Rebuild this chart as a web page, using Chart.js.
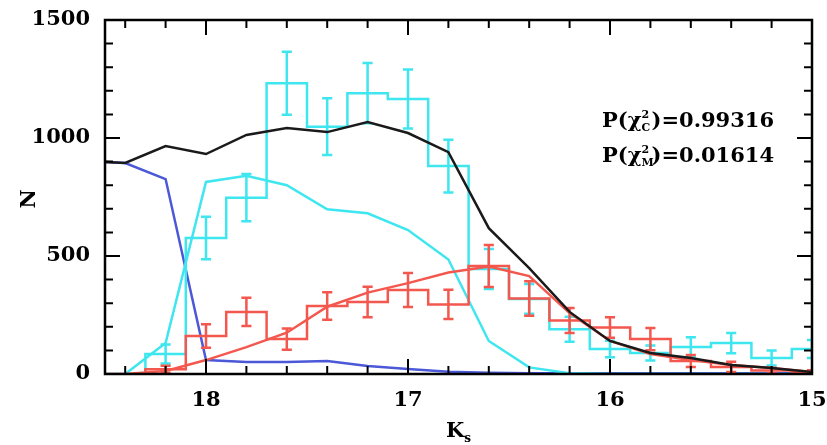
<!DOCTYPE html>
<html>
<head>
<meta charset="utf-8">
<script src="https://cdn.jsdelivr.net/npm/chart.js@4/dist/chart.umd.min.js"></script>
<style>
  html, body { margin: 0; padding: 0; background: #fff; }
</style>
</head>
<body>
<canvas id="ksChart" width="827" height="445"></canvas>
<script>
// Data ----------------------------------------------------

// histogram bin centres (Ks mag), bins are 0.2 mag wide
const binCentres = [18.2, 18.0, 17.8, 17.6, 17.4, 17.2, 17.0, 16.8, 16.6, 16.4, 16.2, 16.0, 15.8, 15.6, 15.4, 15.2, 15.0];
const binWidth = 0.2;

// cyan histogram counts + errors
const cyanCounts = [85, 576, 747, 1232, 1048, 1190, 1165, 881, 445, 318, 190, 106, 89, 114, 131, 68, 106];
const cyanErrors = [40, 90, 100, 133, 120, 128, 125, 112, 85, 63, 53, 35, 32, 42, 43, 32, 38];

// red histogram counts + errors
const redCounts = [20, 161, 263, 148, 288, 305, 356, 295, 458, 320, 227, 197, 148, 55, 30, 15, 8];
const redErrors = [15, 50, 60, 45, 58, 65, 72, 62, 89, 73, 53, 43, 47, 25, 22, 12, 8];

// model curves, sampled at these magnitudes
const modelMags = [18.5, 18.4, 18.2, 18.0, 17.8, 17.6, 17.4, 17.2, 17.0, 16.8, 16.6, 16.4, 16.2, 16.0, 15.8, 15.6, 15.4, 15.2, 15.0];
const totalModel = [898, 894, 966, 932, 1013, 1042, 1025, 1068, 1021, 940, 618, 449, 263, 140, 89, 68, 38, 25, 8];
const blueModel = [898, 894, 826, 59, 51, 51, 55, 34, 21, 10, 5, 3, 3, 3, 3, 3, 3, 3, 3];
const cyanModel = [0, 0, 131, 814, 840, 800, 698, 681, 610, 485, 140, 28, 3, 0, 0, 0, 0, 0, 0];
const redModel = [0, 0, 13, 59, 114, 175, 285, 345, 385, 430, 455, 415, 258, 140, 85, 59, 38, 25, 8];

// tick labels
const xTicks = [18, 17, 16, 15];
const yTicks = [0, 500, 1000, 1500];

// fit probabilities written in the upper right
const fitSubs = ['C', 'M'];
const fitValues = ['0.99316', '0.01614'];

// colours
const CYAN = '#3ee6ef';
const RED = '#f4574e';
const BLUE = '#4b58d8';
const BLACK = '#1a1a1a';
const FONT = 'bold 21px "DejaVu Serif"';

// helpers -------------------------------------------------------------------------

// turn bin centres + counts into points for a 'before' stepped line
function stepPoints(centres, values) {
  const pts = [{ x: centres[0] + binWidth / 2, y: 0 }];
  centres.forEach((c, i) => pts.push({ x: c + binWidth / 2, y: values[i] }));
  pts.push({ x: centres[centres.length - 1] - binWidth / 2, y: values[values.length - 1] });
  return pts;
}

// vertical bars + caps, separated by gaps (null)
const capHalf = 0.025;
function errorPoints(centres, values, errors) {
  const pts = [];
  centres.forEach((c, i) => {
    const lo = values[i] - errors[i];
    const hi = values[i] + errors[i];
    pts.push({ x: c, y: lo }, { x: c, y: hi }, { x: c, y: null });
    pts.push({ x: c - capHalf, y: hi }, { x: c + capHalf, y: hi }, { x: c, y: null });
    pts.push({ x: c - capHalf, y: lo }, { x: c + capHalf, y: lo }, { x: c, y: null });
  });
  return pts;
}

function curvePoints(values) {
  return modelMags.map((m, i) => ({ x: m, y: values[i] }));
}

function lineSet(data, colour, extra) {
  return Object.assign({
    data,
    borderColor: colour,
    borderWidth: 2.5,
    pointRadius: 0,
    fill: false,
    tension: 0,
    spanGaps: false
  }, extra || {});
}

// frame, inward ticks, axis titles and the text box
const framePlugin = {
  id: 'frame',
  afterDatasetsDraw(chart) {
    const { ctx, chartArea: a, scales } = chart;
    const xs = scales.x, ys = scales.y;
    ctx.save();
    ctx.strokeStyle = '#000';
    ctx.lineWidth = 2.5;
    ctx.strokeRect(a.left, a.top, a.right - a.left, a.bottom - a.top);

    ctx.lineWidth = 2;
    ctx.beginPath();
    for (let v = 15; v <= 18.5001; v += 0.2) {
      const major = xTicks.some(t => Math.abs(t - v) < 1e-6);
      const len = major ? 15 : 8;
      const px = xs.getPixelForValue(v);
      ctx.moveTo(px, a.bottom); ctx.lineTo(px, a.bottom - len);
      ctx.moveTo(px, a.top); ctx.lineTo(px, a.top + len);
    }
    for (let v = 0; v <= 1500; v += 100) {
      const major = yTicks.includes(v);
      const len = major ? 15 : 8;
      const py = ys.getPixelForValue(v);
      ctx.moveTo(a.left, py); ctx.lineTo(a.left + len, py);
      ctx.moveTo(a.right, py); ctx.lineTo(a.right - len, py);
    }
    ctx.stroke();

    ctx.fillStyle = '#000';
    // y title
    ctx.font = FONT;
    ctx.textAlign = 'center';
    ctx.textBaseline = 'middle';
    ctx.save();
    ctx.translate(30, (a.top + a.bottom) / 2 + 2);
    ctx.rotate(-Math.PI / 2);
    ctx.fillText('N', 0, 0);
    ctx.restore();

    // x title K_s
    ctx.textAlign = 'left';
    ctx.textBaseline = 'alphabetic';
    ctx.fillText('K', 446, 437);
    const kw = ctx.measureText('K').width;
    ctx.font = 'bold 12px "DejaVu Serif"';
    ctx.fillText('s', 446 + kw, 442);

    // P(chi^2) lines
    fitValues.forEach((val, i) => {
      let x = 602;
      const y = 127 + i * 35;
      ctx.font = FONT;
      ctx.fillText('P(\u03c7', x, y);
      x += ctx.measureText('P(\u03c7').width;
      ctx.font = 'bold 11px "DejaVu Serif"';
      ctx.fillText('2', x, y - 9);
      ctx.fillText(fitSubs[i], x, y + 4);
      x += 10;
      ctx.font = FONT;
      ctx.fillText(')=' + val, x, y);
    });
    ctx.restore();
  }
};

const tickFont = { family: 'DejaVu Serif', size: 21, weight: 'bold' };

// chart -------------------------------------------------------------------------

const config = {
  type: 'line',
  data: {
    datasets: [
      lineSet(curvePoints(totalModel), BLACK),
      lineSet(curvePoints(redModel), RED),
      lineSet(stepPoints(binCentres, redCounts), RED, { stepped: 'before' }),
      lineSet(errorPoints(binCentres, redCounts, redErrors), RED),
      lineSet(stepPoints(binCentres, cyanCounts), CYAN, { stepped: 'before' }),
      lineSet(errorPoints(binCentres, cyanCounts, cyanErrors), CYAN),
      lineSet(curvePoints(cyanModel), CYAN),
      lineSet(curvePoints(blueModel), BLUE)
    ]
  },
  options: {
    responsive: false,
    animation: false,
    devicePixelRatio: 1,
    layout: { padding: { left: 0, right: 15, top: 20, bottom: 0 } },
    plugins: { legend: { display: false }, tooltip: { enabled: false } },
    scales: {
      x: {
        type: 'linear',
        reverse: true,
        min: 15,
        max: 18.5,
        grid: { display: false, drawTicks: false },
        border: { display: false },
        ticks: { font: tickFont, color: '#000', padding: 14, maxRotation: 0, callback: v => String(v) },
        afterBuildTicks(scale) { scale.ticks = xTicks.map(v => ({ value: v })); },
        afterFit(scale) {
          scale.height = 71;
          scale.paddingLeft = 0;
          scale.paddingRight = 0;
        }
      },
      y: {
        min: 0,
        max: 1500,
        grid: { display: false, drawTicks: false },
        border: { display: false },
        ticks: { font: tickFont, color: '#000', padding: 15, callback: v => String(v) },
        afterBuildTicks(scale) { scale.ticks = yTicks.map(v => ({ value: v })); },
        afterFit(scale) {
          scale.width = 105;
          scale.paddingTop = 0;
          scale.paddingBottom = 0;
        }
      }
    }
  },
  plugins: [framePlugin]
};

const ksChart = new Chart(document.getElementById('ksChart'), config);
</script>
</body>
</html>
